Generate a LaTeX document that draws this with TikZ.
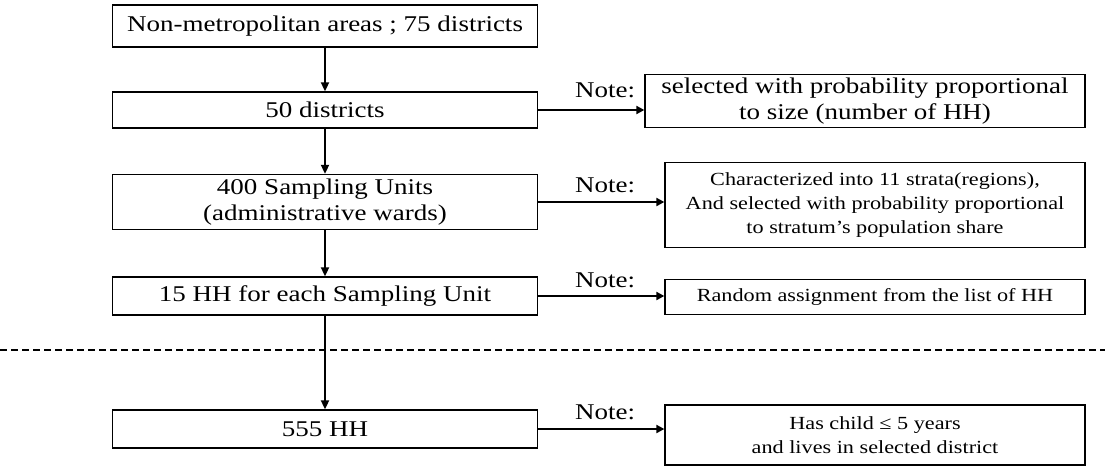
\documentclass[tikz,border=0pt]{standalone}
\usepackage{fontspec}
\setmainfont{Liberation Serif}[FakeStretch=1.2]
\usetikzlibrary{arrows.meta}
\begin{document}
\begin{tikzpicture}[x=1pt,y=-1pt,
  box/.style={draw,line width=1.3pt,inner sep=0pt,align=center,font=\fontsize{22.5}{26}\selectfont},
  notebox/.style={draw,line width=1.3pt,inner sep=0pt,align=center,font=\fontsize{22.5}{26}\selectfont},
  smallbox/.style={draw,line width=1.3pt,inner sep=0pt,align=center,font=\fontsize{18.5}{24}\selectfont},
  arr/.style={line width=1.8pt,-{Triangle[length=9pt,width=8pt]}},
  harr/.style={line width=2.6pt,-{Triangle[length=8pt,width=8pt]}},
  notelbl/.style={font=\fontsize{22.5}{26}\selectfont,inner sep=0pt}]
\useasboundingbox (0,0) rectangle (1105,468);
% main chain
\node[box,minimum width=425pt,minimum height=42pt] (a) at (325,26) {Non-metropolitan areas ; 75 districts};
\node[box,minimum width=425pt,minimum height=36pt] (b) at (325,110) {50 districts};
\node[box,minimum width=425pt,minimum height=55pt] (c) at (325,202) {400 Sampling Units\\(administrative wards)};
\node[box,minimum width=425pt,minimum height=38pt] (d) at (325,296) {15 HH for each Sampling Unit};
\node[box,minimum width=425pt,minimum height=38pt] (e) at (325,429) {555 HH};
% notes
\node[notebox,minimum width=440pt,minimum height=53pt] (n1) at (865,101) {selected with probability proportional\\to size (number of HH)};
\node[smallbox,minimum width=420pt,minimum height=85pt] (n2) at (875,205) {Characterized into 11 strata(regions),\\And selected with probability proportional\\to stratum’s population share};
\node[smallbox,minimum width=420pt,minimum height=35pt] (n3) at (875,297) {Random assignment from the list of HH};
\node[smallbox,minimum width=420pt,minimum height=60pt] (n4) at (875,435) {Has child ≤ 5 years\\and lives in selected district};
% arrows
\draw[arr] (a) -- (b);
\draw[arr] (b) -- (c);
\draw[arr] (c) -- (d);
\draw[arr] (d) -- (e);
\draw[harr] (b.east) -- (b.east -| n1.west);
\draw[harr] (c.east) -- (c.east -| n2.west);
\draw[harr] (d.east) -- (d.east -| n3.west);
\draw[harr] (e.east) -- (e.east -| n4.west);
% labels
\node[notelbl] (l1) at (605,90) {Note:};
\node[notelbl] (l2) at (605,185) {Note:};
\node[notelbl] (l3) at (605,280) {Note:};
\node[notelbl] (l4) at (605,412) {Note:};
% dashed separator
\coordinate (s1) at (0,350);
\coordinate (s2) at (1105,350);
\draw[line width=1.8pt,dash pattern=on 7pt off 4pt] (s1) -- (s2);
\end{tikzpicture}
\end{document}
